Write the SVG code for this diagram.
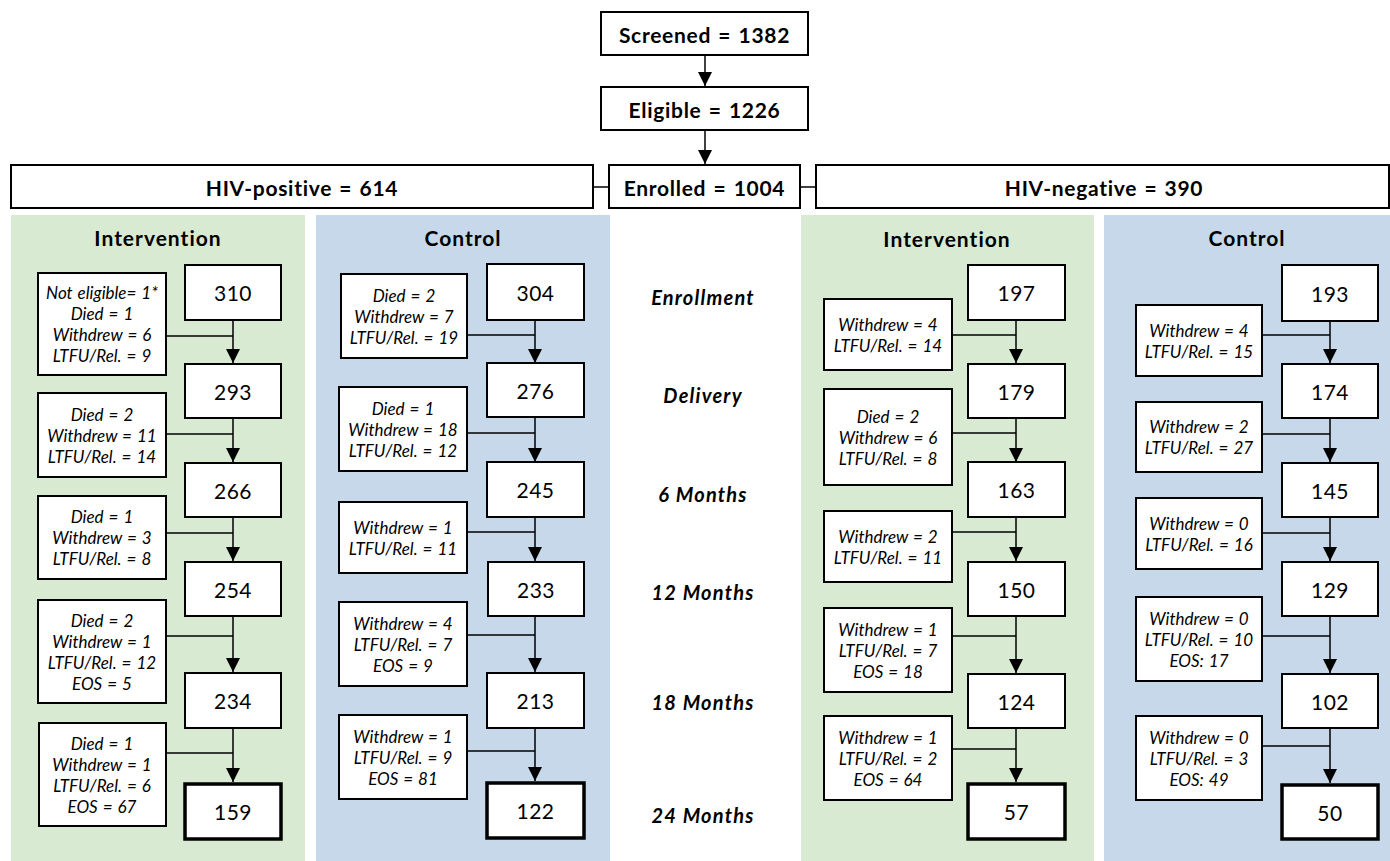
<svg xmlns="http://www.w3.org/2000/svg" width="1390" height="861" viewBox="0 0 1390 861">
<style>
text{font-family:Lato,"Open Sans","DejaVu Sans",sans-serif;fill:#000;text-anchor:middle;dominant-baseline:central}
.top{font-size:21px;font-weight:bold;letter-spacing:0.7px;word-spacing:1.5px}
.hdr{font-size:21px;font-weight:bold;letter-spacing:1px}
.num{font-size:21px;letter-spacing:0.5px}
.side{font-size:17px;font-style:italic;word-spacing:1px}
.stage{font-size:20px;font-weight:bold;font-style:italic;letter-spacing:1.2px}
.box{fill:#fff;stroke:#000;stroke-width:2}
.fin{fill:#fff;stroke:#000;stroke-width:3.5}
.ln{stroke:#000;stroke-width:1.5;fill:none}
.arr{stroke:#000;stroke-width:1.5;fill:none;marker-end:url(#ah)}
.g{fill:#d9ead3}
.b{fill:#c6d8e9}
</style>
<defs>
<marker id="ah" viewBox="0 0 14 14" refX="14" refY="7" markerWidth="14" markerHeight="14" orient="auto" markerUnits="userSpaceOnUse"><path d="M0,0 L14,7 L0,14 z" fill="#000"/></marker>
</defs>
<rect width="1390" height="861" fill="#fff"/>
<g id="panels">
<rect class="g" x="11" y="215" width="294" height="646"/>
<rect class="b" x="316" y="215" width="294" height="646"/>
<rect class="g" x="801" y="215" width="293" height="646"/>
<rect class="b" x="1104" y="215" width="286" height="646"/>
<text class="hdr" x="158" y="237">Intervention</text>
<text class="hdr" x="463" y="237">Control</text>
<text class="hdr" x="947" y="238">Intervention</text>
<text class="hdr" x="1247" y="237">Control</text>
</g>
<g id="connectors">
<line class="arr" x1="705" y1="56" x2="705" y2="86"/>
<line class="arr" x1="705" y1="130" x2="705" y2="164"/>
<line class="ln" x1="593" y1="187" x2="609" y2="187"/>
<line class="ln" x1="800" y1="187" x2="816" y2="187"/>
<!-- column A -->
<line class="arr" x1="233" y1="320" x2="233" y2="363"/>
<line class="arr" x1="233" y1="418" x2="233" y2="462"/>
<line class="arr" x1="233" y1="517" x2="233" y2="561"/>
<line class="arr" x1="233" y1="616" x2="233" y2="672"/>
<line class="arr" x1="233" y1="728" x2="233" y2="782"/>
<line class="ln" x1="166" y1="336" x2="233" y2="336"/>
<line class="ln" x1="166" y1="434" x2="233" y2="434"/>
<line class="ln" x1="166" y1="533" x2="233" y2="533"/>
<line class="ln" x1="166" y1="636" x2="233" y2="636"/>
<line class="ln" x1="166" y1="753" x2="233" y2="753"/>
<!-- column B -->
<line class="arr" x1="535" y1="320" x2="535" y2="363"/>
<line class="arr" x1="535" y1="418" x2="535" y2="462"/>
<line class="arr" x1="535" y1="517" x2="535" y2="561"/>
<line class="arr" x1="535" y1="616" x2="535" y2="672"/>
<line class="arr" x1="535" y1="728" x2="535" y2="781"/>
<line class="ln" x1="467" y1="335" x2="535" y2="335"/>
<line class="ln" x1="467" y1="433" x2="535" y2="433"/>
<line class="ln" x1="467" y1="532" x2="535" y2="532"/>
<line class="ln" x1="467" y1="635" x2="535" y2="635"/>
<line class="ln" x1="467" y1="751" x2="535" y2="751"/>
<!-- column C -->
<line class="arr" x1="1016" y1="320" x2="1016" y2="363"/>
<line class="arr" x1="1016" y1="418" x2="1016" y2="462"/>
<line class="arr" x1="1016" y1="517" x2="1016" y2="561"/>
<line class="arr" x1="1016" y1="616" x2="1016" y2="673"/>
<line class="arr" x1="1016" y1="728" x2="1016" y2="782"/>
<line class="ln" x1="952" y1="335" x2="1016" y2="335"/>
<line class="ln" x1="952" y1="433" x2="1016" y2="433"/>
<line class="ln" x1="952" y1="532" x2="1016" y2="532"/>
<line class="ln" x1="952" y1="636" x2="1016" y2="636"/>
<line class="ln" x1="952" y1="749" x2="1016" y2="749"/>
<!-- column D -->
<line class="arr" x1="1330" y1="321" x2="1330" y2="363"/>
<line class="arr" x1="1330" y1="418" x2="1330" y2="462"/>
<line class="arr" x1="1330" y1="517" x2="1330" y2="561"/>
<line class="arr" x1="1330" y1="616" x2="1330" y2="673"/>
<line class="arr" x1="1330" y1="728" x2="1330" y2="783"/>
<line class="ln" x1="1262" y1="335" x2="1330" y2="335"/>
<line class="ln" x1="1262" y1="434" x2="1330" y2="434"/>
<line class="ln" x1="1262" y1="533" x2="1330" y2="533"/>
<line class="ln" x1="1262" y1="636" x2="1330" y2="636"/>
<line class="ln" x1="1262" y1="746" x2="1330" y2="746"/>
</g>
<g id="screened"><rect class="box" x="601" y="12" width="207" height="43"/><text class="top" x="704.5" y="34">Screened = 1382</text></g>
<g id="eligible"><rect class="box" x="601" y="87" width="207" height="43"/><text class="top" x="704.5" y="109">Eligible = 1226</text></g>
<g id="hivpos"><rect class="box" x="11" y="165" width="582" height="43"/><text class="top" x="302" y="187">HIV-positive = 614</text></g>
<g id="enrolled"><rect class="box" x="609" y="165" width="191" height="43"/><text class="top" x="704.5" y="187">Enrolled = 1004</text></g>
<g id="hivneg"><rect class="box" x="816" y="165" width="573" height="43"/><text class="top" x="1104" y="187">HIV-negative = 390</text></g>
<g id="stages">
<text class="stage" x="703" y="297">Enrollment</text>
<text class="stage" x="703" y="395">Delivery</text>
<text class="stage" x="703" y="494">6 Months</text>
<text class="stage" x="703" y="592">12 Months</text>
<text class="stage" x="703" y="702">18 Months</text>
<text class="stage" x="703" y="815">24 Months</text>
</g>
<!-- Column A nodes -->
<g id="a1"><rect class="box" x="185" y="265" width="96" height="55"/><text class="num" x="233" y="292.5">310</text></g>
<g id="a2"><rect class="box" x="185" y="364" width="96" height="54"/><text class="num" x="233" y="391">293</text></g>
<g id="a3"><rect class="box" x="185" y="463" width="96" height="54"/><text class="num" x="233" y="490">266</text></g>
<g id="a4"><rect class="box" x="185" y="562" width="96" height="54"/><text class="num" x="233" y="589">254</text></g>
<g id="a5"><rect class="box" x="185" y="673" width="96" height="55"/><text class="num" x="233" y="700.5">234</text></g>
<g id="a6"><rect class="fin" x="185" y="784" width="96" height="55"/><text class="num" x="233" y="811.5">159</text></g>
<g id="as1"><rect class="box" x="38" y="273" width="128" height="102"/><text class="side" x="102" y="292.5">Not eligible= 1*</text><text class="side" x="102" y="313.5">Died = 1</text><text class="side" x="102" y="334.5">Withdrew = 6</text><text class="side" x="102" y="355.5">LTFU/Rel. = 9</text></g>
<g id="as2"><rect class="box" x="38" y="393" width="128" height="84"/><text class="side" x="102" y="414">Died = 2</text><text class="side" x="102" y="435">Withdrew = 11</text><text class="side" x="102" y="456">LTFU/Rel. = 14</text></g>
<g id="as3"><rect class="box" x="38" y="496" width="128" height="83"/><text class="side" x="102" y="516.5">Died = 1</text><text class="side" x="102" y="537.5">Withdrew = 3</text><text class="side" x="102" y="558.5">LTFU/Rel. = 8</text></g>
<g id="as4"><rect class="box" x="38" y="600" width="128" height="103"/><text class="side" x="102" y="620">Died = 2</text><text class="side" x="102" y="641">Withdrew = 1</text><text class="side" x="102" y="662">LTFU/Rel. = 12</text><text class="side" x="102" y="683">EOS = 5</text></g>
<g id="as5"><rect class="box" x="39" y="723" width="127" height="103"/><text class="side" x="102" y="743">Died = 1</text><text class="side" x="102" y="764">Withdrew = 1</text><text class="side" x="102" y="785">LTFU/Rel. = 6</text><text class="side" x="102" y="806">EOS = 67</text></g>
<!-- Column B nodes -->
<g id="b1"><rect class="box" x="487" y="264" width="97" height="56"/><text class="num" x="535.5" y="292">304</text></g>
<g id="b2"><rect class="box" x="487" y="363" width="97" height="54"/><text class="num" x="535.5" y="390">276</text></g>
<g id="b3"><rect class="box" x="487" y="462" width="97" height="55"/><text class="num" x="535.5" y="489.5">245</text></g>
<g id="b4"><rect class="box" x="488" y="562" width="96" height="54"/><text class="num" x="536" y="589">233</text></g>
<g id="b5"><rect class="box" x="487" y="673" width="97" height="55"/><text class="num" x="535.5" y="700.5">213</text></g>
<g id="b6"><rect class="fin" x="487" y="783" width="97" height="55"/><text class="num" x="535.5" y="810.5">122</text></g>
<g id="bs1"><rect class="box" x="341" y="274" width="126" height="84"/><text class="side" x="404" y="295">Died = 2</text><text class="side" x="404" y="316">Withdrew = 7</text><text class="side" x="404" y="337">LTFU/Rel. = 19</text></g>
<g id="bs2"><rect class="box" x="339" y="387" width="128" height="84"/><text class="side" x="403" y="408">Died = 1</text><text class="side" x="403" y="429">Withdrew = 18</text><text class="side" x="403" y="450">LTFU/Rel. = 12</text></g>
<g id="bs3"><rect class="box" x="339" y="502" width="128" height="71"/><text class="side" x="403" y="527">Withdrew = 1</text><text class="side" x="403" y="548">LTFU/Rel. = 11</text></g>
<g id="bs4"><rect class="box" x="339" y="602" width="128" height="84"/><text class="side" x="403" y="623">Withdrew = 4</text><text class="side" x="403" y="644">LTFU/Rel. = 7</text><text class="side" x="403" y="665">EOS = 9</text></g>
<g id="bs5"><rect class="box" x="339" y="715" width="128" height="84"/><text class="side" x="403" y="736">Withdrew = 1</text><text class="side" x="403" y="757">LTFU/Rel. = 9</text><text class="side" x="403" y="778">EOS = 81</text></g>
<!-- Column C nodes -->
<g id="c1"><rect class="box" x="968" y="265" width="97" height="55"/><text class="num" x="1016.5" y="292.5">197</text></g>
<g id="c2"><rect class="box" x="968" y="364" width="97" height="54"/><text class="num" x="1016.5" y="391">179</text></g>
<g id="c3"><rect class="box" x="968" y="462" width="97" height="55"/><text class="num" x="1016.5" y="489.5">163</text></g>
<g id="c4"><rect class="box" x="968" y="562" width="97" height="54"/><text class="num" x="1016.5" y="589">150</text></g>
<g id="c5"><rect class="box" x="968" y="674" width="97" height="54"/><text class="num" x="1016.5" y="701">124</text></g>
<g id="c6"><rect class="fin" x="968" y="784" width="97" height="55"/><text class="num" x="1016.5" y="811.5">57</text></g>
<g id="cs1"><rect class="box" x="824" y="299" width="128" height="71"/><text class="side" x="888" y="324">Withdrew = 4</text><text class="side" x="888" y="345">LTFU/Rel. = 14</text></g>
<g id="cs2"><rect class="box" x="824" y="389" width="128" height="96"/><text class="side" x="888" y="416">Died = 2</text><text class="side" x="888" y="437">Withdrew = 6</text><text class="side" x="888" y="458">LTFU/Rel. = 8</text></g>
<g id="cs3"><rect class="box" x="824" y="511" width="128" height="71"/><text class="side" x="888" y="536">Withdrew = 2</text><text class="side" x="888" y="557">LTFU/Rel. = 11</text></g>
<g id="cs4"><rect class="box" x="824" y="608" width="128" height="84"/><text class="side" x="888" y="629">Withdrew = 1</text><text class="side" x="888" y="650">LTFU/Rel. = 7</text><text class="side" x="888" y="671">EOS = 18</text></g>
<g id="cs5"><rect class="box" x="824" y="716" width="128" height="84"/><text class="side" x="888" y="737">Withdrew = 1</text><text class="side" x="888" y="758">LTFU/Rel. = 2</text><text class="side" x="888" y="779">EOS = 64</text></g>
<!-- Column D nodes -->
<g id="d1"><rect class="box" x="1282" y="265" width="96" height="56"/><text class="num" x="1330" y="293">193</text></g>
<g id="d2"><rect class="box" x="1282" y="364" width="96" height="54"/><text class="num" x="1330" y="391">174</text></g>
<g id="d3"><rect class="box" x="1282" y="463" width="96" height="54"/><text class="num" x="1330" y="490">145</text></g>
<g id="d4"><rect class="box" x="1282" y="562" width="96" height="54"/><text class="num" x="1330" y="589">129</text></g>
<g id="d5"><rect class="box" x="1282" y="674" width="96" height="54"/><text class="num" x="1330" y="701">102</text></g>
<g id="d6"><rect class="fin" x="1282" y="785" width="96" height="54"/><text class="num" x="1330" y="812">50</text></g>
<g id="ds1"><rect class="box" x="1136" y="305" width="126" height="71"/><text class="side" x="1199" y="330">Withdrew = 4</text><text class="side" x="1199" y="351">LTFU/Rel. = 15</text></g>
<g id="ds2"><rect class="box" x="1136" y="402" width="126" height="70"/><text class="side" x="1199" y="426.5">Withdrew = 2</text><text class="side" x="1199" y="447.5">LTFU/Rel. = 27</text></g>
<g id="ds3"><rect class="box" x="1136" y="498" width="126" height="71"/><text class="side" x="1199" y="523">Withdrew = 0</text><text class="side" x="1199" y="544">LTFU/Rel. = 16</text></g>
<g id="ds4"><rect class="box" x="1136" y="597" width="126" height="84"/><text class="side" x="1199" y="618">Withdrew = 0</text><text class="side" x="1199" y="639">LTFU/Rel. = 10</text><text class="side" x="1199" y="660">EOS: 17</text></g>
<g id="ds5"><rect class="box" x="1136" y="716" width="126" height="84"/><text class="side" x="1199" y="737">Withdrew = 0</text><text class="side" x="1199" y="758">LTFU/Rel. = 3</text><text class="side" x="1199" y="779">EOS: 49</text></g>
</svg>
